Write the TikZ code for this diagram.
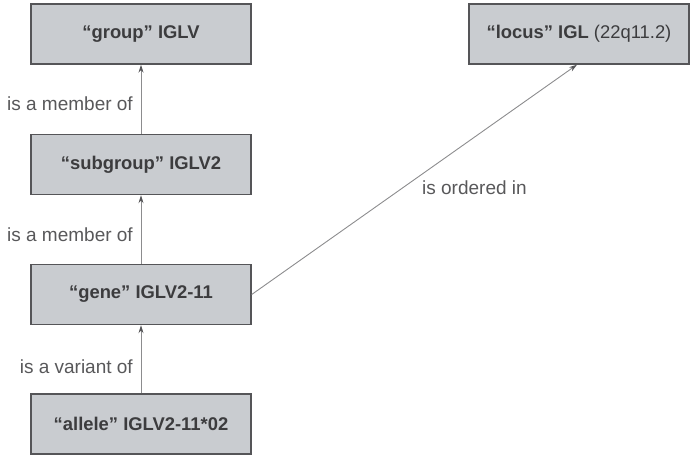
\documentclass[tikz,border=0pt]{standalone}
\usepackage{fontspec}
\setmainfont{Liberation Sans}
\usetikzlibrary{arrows.meta}
\definecolor{boxfill}{RGB}{201,204,208}
\definecolor{boxline}{RGB}{85,85,88}
\definecolor{boxtext}{RGB}{60,60,62}
\definecolor{labtext}{RGB}{88,88,90}
\definecolor{arrline}{RGB}{140,140,142}
\begin{document}
\begin{tikzpicture}[x=1pt,y=-1pt,
  entity/.style={draw=boxline, line width=1.4pt, fill=boxfill, minimum width=220pt, minimum height=60pt, inner sep=0pt, text=boxtext, font=\fontsize{18.4}{22}\selectfont\bfseries},
  rel/.style={draw=arrline, line width=0.9pt, -{Stealth[length=8pt,width=5pt,color=boxline]}},
  lab/.style={inner sep=0pt, text=labtext, font=\fontsize{19}{23}\selectfont}
]
\useasboundingbox (0,0) rectangle (694,458);
\node[entity] (group) at (141,34) {“group” IGLV};
\node[entity] (subgroup) at (141,164.5) {“subgroup” IGLV2};
\node[entity] (gene) at (141,294.5) {“gene” IGLV2-11};
\node[entity] (allele) at (141,424) {“allele” IGLV2-11*02};
\node[entity] (locus) at (579,34) {“locus” IGL \mdseries(22q11.2)};
\coordinate (lt) at (577,64.7);
\draw[rel] (subgroup.north) -- (group.south);
\draw[rel] (gene.north) -- (subgroup.south);
\draw[rel] (allele.north) -- (gene.south);
\draw[rel] (gene.east) -- (lt);
\node[lab, anchor=east] (l1) at (133,104) {is a member of};
\node[lab, anchor=east] (l2) at (133,235) {is a member of};
\node[lab, anchor=east] (l3) at (133,367) {is a variant of};
\node[lab, anchor=west] (l4) at (422,188) {is ordered in};
\end{tikzpicture}
\end{document}
